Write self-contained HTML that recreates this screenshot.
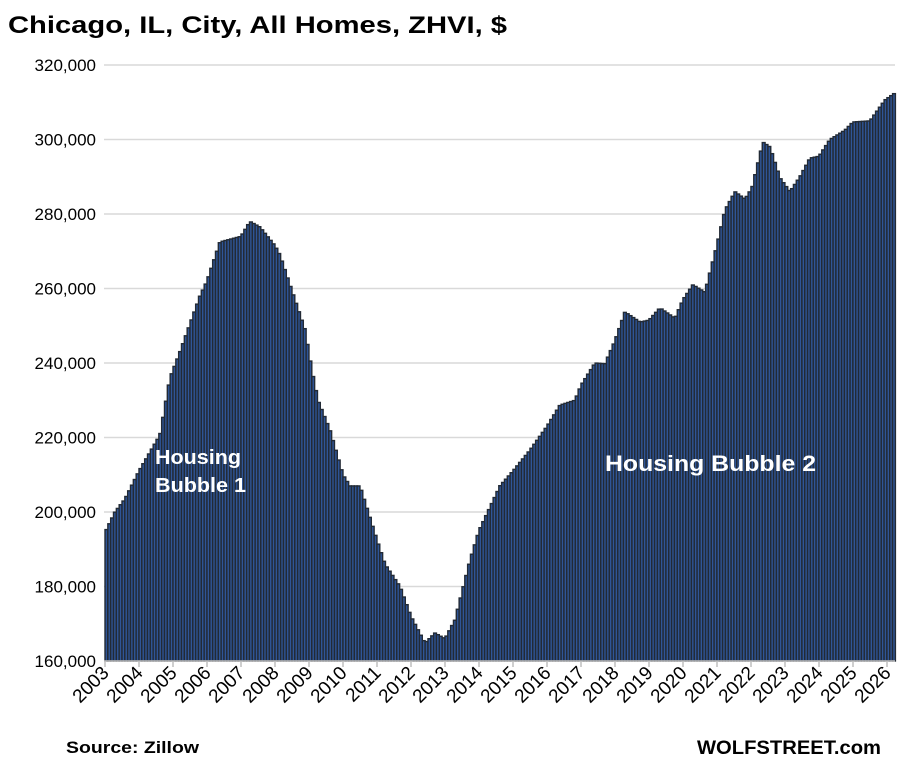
<!DOCTYPE html>
<html><head><meta charset="utf-8"><style>
body{margin:0;background:#fff;}
svg text{font-family:"Liberation Sans",Arial,sans-serif;}
</style></head><body>
<svg id="c" width="898" height="759" xmlns="http://www.w3.org/2000/svg">
<text x="8" y="33" font-size="24" font-weight="bold" fill="#000" textLength="499" lengthAdjust="spacingAndGlyphs">Chicago, IL, City, All Homes, ZHVI, $</text>
<g id="grid"></g>
<g id="bars"></g>
<g id="ax"></g>
<text x="155" y="464" font-size="20" font-weight="bold" fill="#fff" textLength="86" lengthAdjust="spacingAndGlyphs">Housing</text>
<text x="155" y="492" font-size="20" font-weight="bold" fill="#fff" textLength="91" lengthAdjust="spacingAndGlyphs">Bubble 1</text>
<text x="605" y="471" font-size="22" font-weight="bold" fill="#fff" textLength="211" lengthAdjust="spacingAndGlyphs">Housing Bubble 2</text>
<text x="66" y="753" font-size="17" font-weight="bold" fill="#000" textLength="133" lengthAdjust="spacingAndGlyphs">Source: Zillow</text>
<text x="697" y="754" font-size="19" font-weight="bold" fill="#000" textLength="184" lengthAdjust="spacingAndGlyphs">WOLFSTREET.com</text>
</svg>
<script>
var NS="http://www.w3.org/2000/svg";
function el(t,a,p){var e=document.createElementNS(NS,t);for(var k in a)e.setAttribute(k,a[k]);document.getElementById(p).appendChild(e);return e;}
function Y(v){return 661-(v-160000)/20000*74.5;}
for(var i=0;i<=8;i++){var v=160000+i*20000,y=Y(v);
 if(i>0)el("line",{x1:104,x2:895,y1:y,y2:y,stroke:"#d9d9d9","stroke-width":1.5},"grid");
 var t=el("text",{x:96,y:y+6,"font-size":17,"text-anchor":"end",fill:"#000"},"ax");t.textContent=v.toLocaleString("en-US");}
var k=[[105,194500],[115,200000],[125,203500],[139,211000],[160,220700],[170,236000],[180,243000],[200,258000],[207,262000],[220,272500],[241,274000],[250,278000],[260,276500],[275,271500],[280,269000],[295,257000],[305,249000],[312,238000],[318,230000],[330,222000],[343,210000],[350,207000],[360,207000],[377,192500],[385,186000],[400,180000],[411,172000],[425,164800],[435,167500],[445,166000],[455,171000],[470,187000],[479,195000],[500,207000],[513,211000],[530,216600],[547,223000],[560,228700],[575,230000],[581,234000],[595,240000],[605,239800],[615,246000],[625,253700],[640,251000],[649,251500],[660,254800],[675,252000],[683,257000],[693,261000],[705,259000],[717,271700],[725,281000],[735,286000],[745,284000],[752,287000],[763,299300],[770,298000],[780,289700],[790,286000],[800,290000],[810,295000],[819,295500],[830,300000],[845,302500],[853,304700],[870,305000],[885,310600],[895,312500]];
function val(x){for(var i=0;i<k.length-1;i++){if(x<=k[i+1][0]){var f=(x-k[i][0])/(k[i+1][0]-k[i][0]);return k[i][1]+f*(k[i+1][1]-k[i][1]);}}return k[k.length-1][1];}
var w=2.833;
for(var x=105;x<894;x+=w){var v=val(x+w/2),y=Y(v);
 el("rect",{x:x,y:y,width:w,height:661-y,fill:"#2f5597",stroke:"#222a35","stroke-width":1.4},"bars");}
el("line",{x1:104,x2:895,y1:661,y2:661,stroke:"#bfbfbf","stroke-width":1.5},"ax");
for(var i=0;i<24;i++){var x=105+i*34;
 el("line",{x1:x,x2:x,y1:661,y2:667,stroke:"#bfbfbf","stroke-width":1.5},"ax");
 var t=el("text",{x:x+5,y:674,"font-size":19,"text-anchor":"end",fill:"#000",transform:"rotate(-45 "+(x+5)+" 674)"},"ax");t.textContent=2003+i;}
</script>
</body></html>
